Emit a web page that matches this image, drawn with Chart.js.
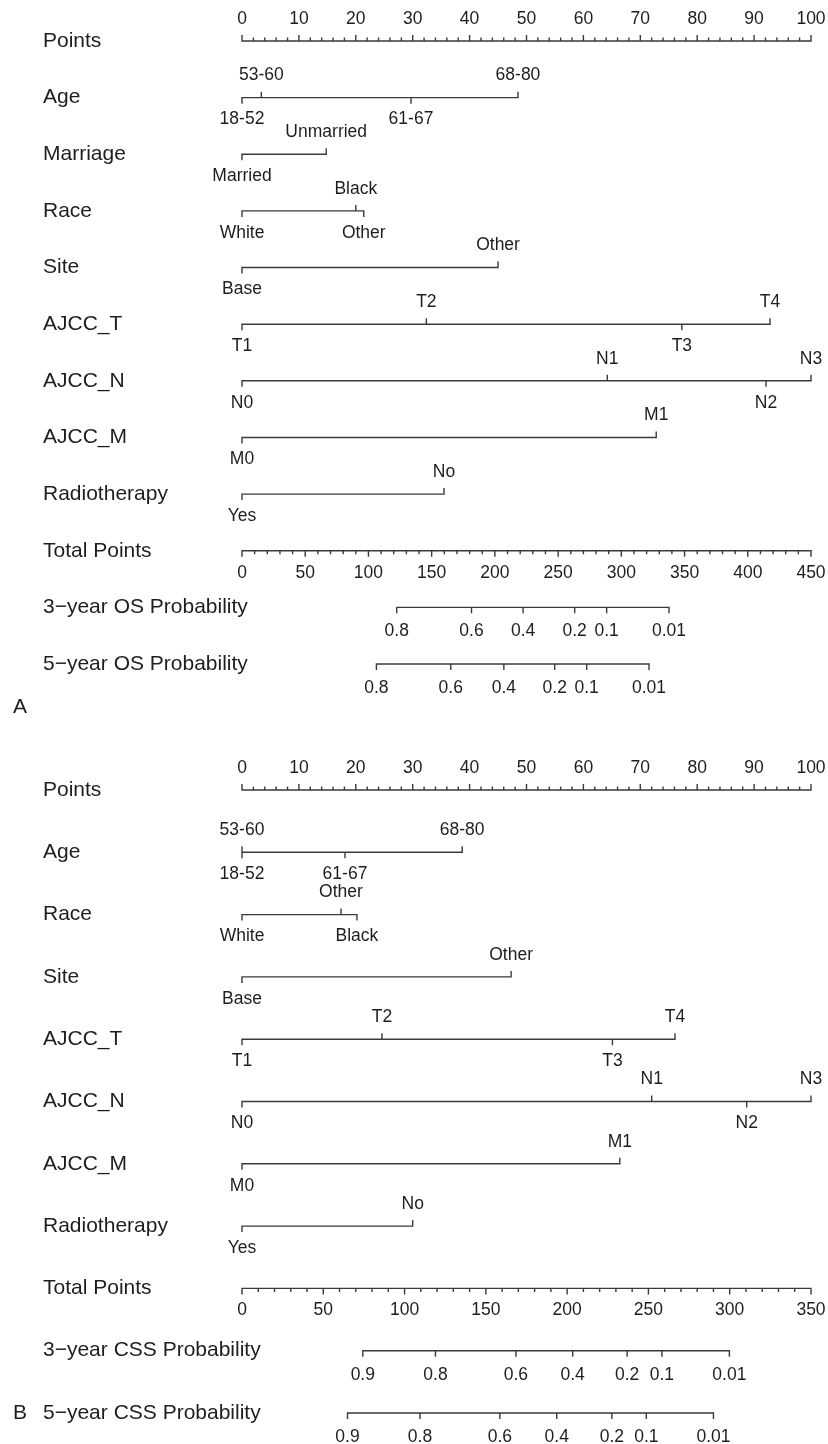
<!DOCTYPE html>
<html>
<head>
<meta charset="utf-8">
<script src="https://cdn.jsdelivr.net/npm/chart.js@4.4.1/dist/chart.umd.min.js"></script>
<style>
  html, body { margin: 0; padding: 0; background: #fff; }
  canvas { position: absolute; left: 0; }
</style>
</head>
<body>
<canvas id="panelA" width="828" height="722" style="top:0"></canvas>
<canvas id="panelB" width="828" height="722" style="top:722px"></canvas>
<script>
// axis tick labels
const pointTicks = [0, 10, 20, 30, 40, 50, 60, 70, 80, 90, 100];
const totalTicksA = [0, 50, 100, 150, 200, 250, 300, 350, 400, 450];
const totalTicksB = [0, 50, 100, 150, 200, 250, 300, 350];

// ---- panel A: overall survival ----
const ageLevelsA = ['18-52', '53-60', '61-67', '68-80'];
const agePointsA = [0, 3.4, 29.7, 48.5];
const marriageLevels = ['Married', 'Unmarried'];
const marriagePoints = [0, 14.8];
const raceLevelsA = ['White', 'Black', 'Other'];
const racePointsA = [0, 20.0, 21.4];
const siteLevels = ['Base', 'Other'];
const sitePointsA = [0, 45.0];
const tLevels = ['T1', 'T2', 'T3', 'T4'];
const tPointsA = [0, 32.4, 77.3, 92.8];
const nLevels = ['N0', 'N1', 'N2', 'N3'];
const nPointsA = [0, 64.2, 92.1, 100];
const mLevels = ['M0', 'M1'];
const mPointsA = [0, 72.8];
const radioLevels = ['Yes', 'No'];
const radioPointsA = [0, 35.5];
const os3Labels = ['0.8', '0.6', '0.4', '0.2', '0.1', '0.01'];
const os3Total = [122.4, 181.5, 222.3, 263.1, 288.4, 337.7];
const os5Labels = ['0.8', '0.6', '0.4', '0.2', '0.1', '0.01'];
const os5Total = [106.3, 165.1, 207.1, 247.3, 272.6, 321.9];

// ---- panel B: cancer-specific survival ----
const ageLevelsB = ['18-52', '53-60', '61-67', '68-80'];
const agePointsB = [0, 0, 18.1, 38.7];
const raceLevelsB = ['White', 'Other', 'Black'];
const racePointsB = [0, 17.4, 20.2];
const sitePointsB = [0, 47.3];
const tPointsB = [0, 24.6, 65.1, 76.1];
const nPointsB = [0, 72.0, 88.7, 100];
const mPointsB = [0, 66.4];
const radioPointsB = [0, 30.0];
const css3Labels = ['0.9', '0.8', '0.6', '0.4', '0.2', '0.1', '0.01'];
const css3Total = [74.3, 119.0, 168.5, 203.4, 236.9, 258.3, 299.8];
const css5Labels = ['0.9', '0.8', '0.6', '0.4', '0.2', '0.1', '0.01'];
const css5Total = [64.9, 109.5, 158.6, 193.6, 227.5, 248.7, 290.0];

const FONT = "'Liberation Sans', Arial, sans-serif";
const INK = '#1e1e1e';
const LINE = '#3a3a3a';

// scale rows: ticks every minor step, labels on the major ones
function axisRow(name, scale, max, majors, minorStep, side) {
  const values = [], labels = [], major = [];
  for (let v = 0; v <= max + 1e-9; v += minorStep) {
    const m = majors.includes(Math.round(v));
    values.push(v); labels.push(m ? String(Math.round(v)) : ''); major.push(m);
  }
  return { name, scale, values, labels, major, side: () => side, gap: 22 };
}
function catRow(name, labels, values) {
  return { name, scale: 'x', values, labels, side: i => (i % 2 ? 'up' : 'down'), gap: 22 };
}
function probRow(name, labels, values) {
  return { name, scale: 'xt', values, labels, side: () => 'down', gap: 24 };
}

const rowsA = [
  axisRow('Points', 'x', 100, pointTicks, 2, 'up'),
  catRow('Age', ageLevelsA, agePointsA),
  catRow('Marriage', marriageLevels, marriagePoints),
  catRow('Race', raceLevelsA, racePointsA),
  catRow('Site', siteLevels, sitePointsA),
  catRow('AJCC_T', tLevels, tPointsA),
  catRow('AJCC_N', nLevels, nPointsA),
  catRow('AJCC_M', mLevels, mPointsA),
  catRow('Radiotherapy', radioLevels, radioPointsA),
  axisRow('Total Points', 'xt', 450, totalTicksA, 10, 'down'),
  probRow('3\u2212year OS Probability', os3Labels, os3Total),
  probRow('5\u2212year OS Probability', os5Labels, os5Total)
];

const rowsB = [
  axisRow('Points', 'x', 100, pointTicks, 2, 'up'),
  catRow('Age', ageLevelsB, agePointsB),
  catRow('Race', raceLevelsB, racePointsB),
  catRow('Site', siteLevels, sitePointsB),
  catRow('AJCC_T', tLevels, tPointsB),
  catRow('AJCC_N', nLevels, nPointsB),
  catRow('AJCC_M', mLevels, mPointsB),
  catRow('Radiotherapy', radioLevels, radioPointsB),
  axisRow('Total Points', 'xt', 350, totalTicksB, 10, 'down'),
  probRow('3\u2212year CSS Probability', css3Labels, css3Total),
  probRow('5\u2212year CSS Probability', css5Labels, css5Total)
];

function makePanel(id, rows, totalMax, padTop, padBottom, letter, letterY) {
  const canvas = document.getElementById(id);
  const H = canvas.height;
  const step = (H - padTop - padBottom) / (rows.length - 1);
  const tickLen = 6 / step, minorLen = 3.5 / step;

  // each row is one line path: along the row, with a short excursion at every tick
  const datasets = rows.map((row, r) => {
    const pts = [{ x: row.values[0], y: r }];
    row.values.forEach((v, i) => {
      const len = row.major && !row.major[i] ? minorLen : tickLen;
      const dir = row.side(i) === 'up' ? -1 : 1;
      pts.push({ x: v, y: r }, { x: v, y: r + dir * len }, { x: v, y: r });
    });
    return {
      data: pts, xAxisID: row.scale, yAxisID: 'y',
      borderColor: LINE, borderWidth: 1.4, pointRadius: 0, tension: 0,
      borderJoinStyle: 'miter', clip: false
    };
  });

  const textPlugin = {
    id: 'nomogramText',
    afterDatasetsDraw(chart) {
      const { ctx, scales } = chart;
      ctx.save();
      ctx.fillStyle = INK;
      ctx.textBaseline = 'middle';
      rows.forEach((row, r) => {
        const y = scales.y.getPixelForValue(r);
        ctx.font = '21px ' + FONT;
        ctx.textAlign = 'left';
        ctx.fillText(row.name, 43, y);
        ctx.font = '17.5px ' + FONT;
        ctx.textAlign = 'center';
        row.values.forEach((v, i) => {
          const t = row.labels[i];
          if (!t) return;
          const x = scales[row.scale].getPixelForValue(v);
          const dy = row.side(i) === 'up' ? -row.gap : row.gap;
          ctx.fillText(t, x, y + dy);
        });
      });
      ctx.font = '21px ' + FONT;
      ctx.textAlign = 'left';
      ctx.fillText(letter, 13, letterY);
      ctx.restore();
    }
  };

  return new Chart(canvas, {
    type: 'line',
    data: { datasets },
    options: {
      responsive: false,
      animation: false,
      devicePixelRatio: 1,
      events: [],
      layout: { padding: { left: 242, right: 17, top: padTop, bottom: padBottom } },
      plugins: { legend: { display: false }, tooltip: { enabled: false } },
      scales: {
        x: { type: 'linear', axis: 'x', min: 0, max: 100, display: false },
        xt: { type: 'linear', axis: 'x', min: 0, max: totalMax, display: false },
        y: { type: 'linear', min: 0, max: rows.length - 1, reverse: true, display: false }
      }
    },
    plugins: [textPlugin]
  });
}

makePanel('panelA', rowsA, 450, 41, 58, 'A', 707);
makePanel('panelB', rowsB, 350, 68, 31, 'B', 691);
</script>
</body>
</html>
